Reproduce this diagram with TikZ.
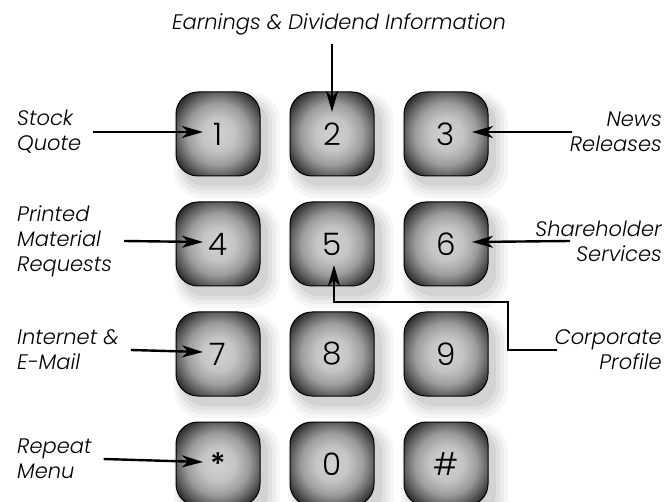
\documentclass[tikz,border=0pt]{standalone}
\usepackage{fontspec}
\setmainfont{Poppins}[UprightFont={* Light}, ItalicFont={* Light Italic}, BoldFont={* Medium}]
\usetikzlibrary{positioning,arrows.meta,shadows}

\pgfdeclareradialshading{keyface}{\pgfpoint{0bp}{0bp}}{%
  color(0bp)=(black!18); color(10bp)=(black!23); color(18.5bp)=(black!39);
  color(24.4bp)=(black!61); color(29.5bp)=(black!82); color(32.8bp)=(black!95);
  color(35.4bp)=(black); color(50bp)=(black)}

\begin{document}
\begin{tikzpicture}[x=1pt, y=-1pt,
  node distance=25pt and 29pt,
  softshadow/.style={
    general shadow={shadow xshift=7pt, shadow yshift=-9pt, shadow scale=1.26, fill=black, opacity=0.035},
    general shadow={shadow xshift=7pt, shadow yshift=-9pt, shadow scale=1.18, fill=black, opacity=0.04},
    general shadow={shadow xshift=7pt, shadow yshift=-9pt, shadow scale=1.10, fill=black, opacity=0.05},
    general shadow={shadow xshift=7pt, shadow yshift=-9pt, shadow scale=1.02, fill=black, opacity=0.06}},
  key/.style={softshadow, rounded corners=22pt, minimum size=84pt, inner sep=0pt,
              shading=keyface, draw=black, line width=1pt,
              font=\fontsize{31}{31}\selectfont},
  lbl/.style={font=\itshape\fontsize{21}{25}\selectfont, inner sep=0pt},
  arr/.style={-{Stealth[length=21pt, width=12pt, inset=6pt]}, line width=2.4pt},
]
\useasboundingbox (0,0) rectangle (666,502);

% --- Keypad ---
\node[key] (k1) at (218,134) {1};
\node[key, right=of k1] (k2) {2};
\node[key, right=of k2] (k3) {3};
\node[key, below=of k1] (k4) {4};
\node[key, right=of k4] (k5) {5};
\node[key, right=of k5] (k6) {6};
\node[key, below=of k4] (k7) {7};
\node[key, right=of k7] (k8) {8};
\node[key, right=of k8] (k9) {9};
\node[key, below=of k7] (kstar) {\textbf{*}};
\node[key, right=of kstar] (k0) {0};
\node[key, right=of k0] (khash) {\#};

% --- Menu labels ---
\node[lbl, anchor=base] (earn) at (339,30) {Earnings \& Dividend Information};
\node[lbl, align=left, anchor=west] (quote) at (17,132) {Stock\\Quote};
\node[lbl, align=left, anchor=west] (print) at (17,241) {Printed\\Material\\Requests};
\node[lbl, align=left, anchor=west] (mail) at (17,350) {Internet \&\\E-Mail};
\node[lbl, align=left, anchor=west] (menu) at (17,459) {Repeat\\Menu};
\node[lbl, align=right, anchor=east] (news) at (662,132) {News\\Releases};
\node[lbl, align=right, anchor=east] (holder) at (662,241) {Shareholder\\Services};
\node[lbl, align=right, anchor=east] (profile) at (662,350) {Corporate\\Profile};

\coordinate (newsin) at (572,132);
\coordinate (holderin) at (570,241);
\coordinate (profilein) at (557,350);

% --- Arrows to keys ---
\draw[arr] (earn.south -| k2.center) ++(0,8) -- ([yshift=22pt]k2.center);
\draw[arr] ([xshift=12pt]quote.east) -- ([xshift=-15pt,yshift=2pt]k1.center);
\draw[arr] ([xshift=12pt]print.east) -- ([xshift=-15pt,yshift=2pt]k4.center);
\draw[arr] ([xshift=12pt]mail.east) -- ([xshift=-15pt,yshift=2pt]k7.center);
\draw[arr] ([xshift=12pt]menu.east) -- ([xshift=-15pt,yshift=2pt]kstar.center);
\draw[arr] (newsin) -- ([xshift=26pt,yshift=2pt]k3.center);
\draw[arr] (holderin) -- ([xshift=26pt,yshift=2pt]k6.center);
\draw[arr] (profilein) -- ++(-49,0) |- ([xshift=2pt,yshift=-58pt]k5.center) -- ([xshift=2pt,yshift=-21pt]k5.center);

\end{tikzpicture}
\end{document}
